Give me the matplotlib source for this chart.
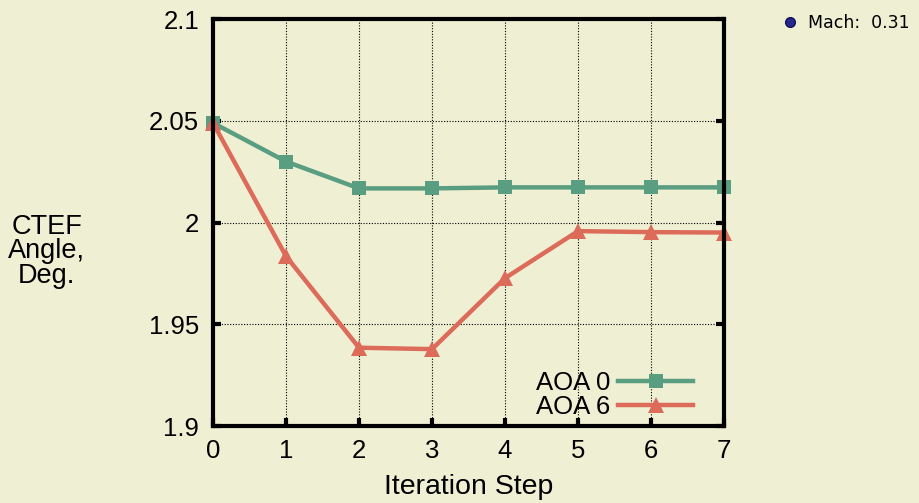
import matplotlib

matplotlib.use("Agg")
import matplotlib.pyplot as plt
from matplotlib.lines import Line2D

steps = [0, 1, 2, 3, 4, 5, 6, 7]
aoa0 = [2.049, 2.030, 2.0168, 2.0168, 2.0173, 2.0173, 2.0173, 2.0173]
aoa6 = [2.049, 1.9835, 1.9385, 1.9378, 1.9727, 1.9958, 1.9953, 1.9951]
series_labels = ["AOA 0", "AOA 6"]
yticks = [1.9, 1.95, 2.0, 2.05, 2.1]
ytick_labels = ["1.9", "1.95", "2", "2.05", "2.1"]

BG = "#efefd3"
GREEN = "#5a9e82"
RED = "#dc6b5a"

plt.rcParams["font.family"] = ["Liberation Sans", "DejaVu Sans"]

fig = plt.figure(figsize=(9.2, 5.03), dpi=100, facecolor=BG)
ax = fig.add_axes([0.2315, 0.153, 0.5555, 0.809])
ax.set_facecolor(BG)

ax.plot(steps, aoa0, color=GREEN, lw=3.2, marker="s", ms=10.5, mew=0,
        solid_joinstyle="round", clip_on=False, label=series_labels[0])
ax.plot(steps, aoa6, color=RED, lw=3.2, marker="^", ms=11, mew=0,
        clip_on=False, label=series_labels[1])

ax.set_xlim(0, 7)
ax.set_ylim(1.9, 2.1)
ax.set_xticks(steps)
ax.set_yticks(yticks)
ax.set_yticklabels(ytick_labels)
ax.tick_params(direction="in", length=6, width=3, labelsize=18.5, pad=10,
               right=True, top=False)
ax.tick_params(axis="x", pad=9)
ax.grid(True, color="black", linestyle=(0, (1, 1.5)), linewidth=0.8)
for sp in ax.spines.values():
    sp.set_linewidth(3)

ax.set_xlabel("Iteration Step", fontsize=20.5, labelpad=8)
fig.text(0.051, 0.50, "CTEF\nAngle,\nDeg.", fontsize=19.5, ha="center",
         va="center", linespacing=0.92)

ax.legend(loc="lower right", frameon=False, fontsize=18.5, markerfirst=False,
          handlelength=2.9, handletextpad=0.3, labelspacing=0.0,
          borderaxespad=0, borderpad=0, bbox_to_anchor=(0.939, 0.018))

# annotation at top right
fig.lines.append(Line2D([0.859], [0.957], marker="o", ms=7, color="#27288a",
                        mec="#10105a", transform=fig.transFigure))
fig.text(0.878, 0.955, "Mach:  0.31", fontsize=12.5, ha="left", va="center",
         family=["DejaVu Sans"])

fig.savefig("out.png", dpi=100, facecolor=BG)
